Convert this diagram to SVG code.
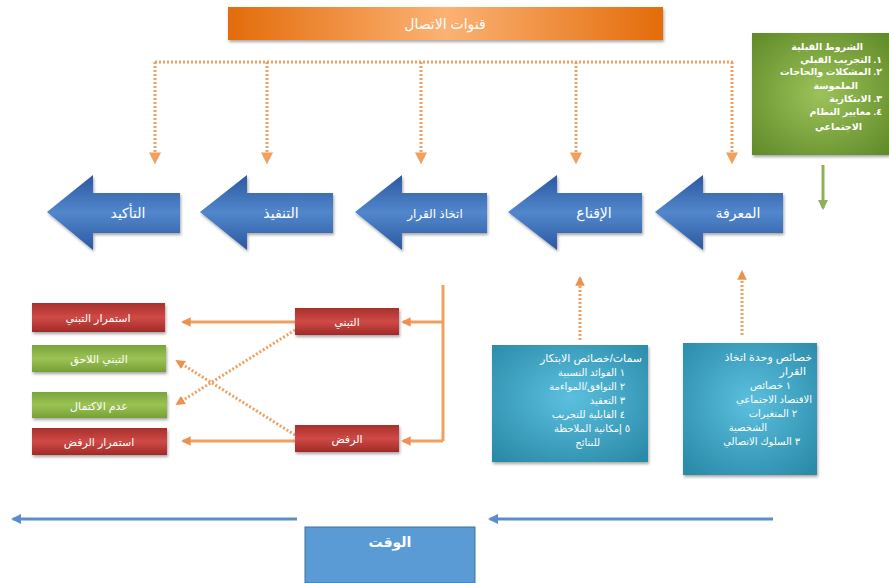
<svg xmlns="http://www.w3.org/2000/svg" width="889" height="583" viewBox="0 0 889 583">
<defs>
<linearGradient id="gOr" x1="0" y1="0" x2="1" y2="0">
<stop offset="0" stop-color="#e36c0a"/><stop offset="0.5" stop-color="#fbb274"/><stop offset="1" stop-color="#e36c0a"/>
</linearGradient>
<linearGradient id="gBl" x1="0" y1="0" x2="0" y2="1">
<stop offset="0" stop-color="#2b58a0"/><stop offset="0.5" stop-color="#5287cc"/><stop offset="1" stop-color="#2b58a0"/>
</linearGradient>
<linearGradient id="gRed" x1="0" y1="0" x2="0" y2="1">
<stop offset="0" stop-color="#a8302c"/><stop offset="0.5" stop-color="#cf4a46"/><stop offset="1" stop-color="#a02a27"/>
</linearGradient>
<linearGradient id="gGr" x1="0" y1="0" x2="0" y2="1">
<stop offset="0" stop-color="#7aa43a"/><stop offset="0.5" stop-color="#9bc254"/><stop offset="1" stop-color="#76a036"/>
</linearGradient>
<radialGradient id="gGrBox" cx="0.5" cy="0.5" r="0.7">
<stop offset="0" stop-color="#9cc25a"/><stop offset="1" stop-color="#5f8a28"/>
</radialGradient>
<radialGradient id="gTeal" cx="0.5" cy="0.45" r="0.7">
<stop offset="0" stop-color="#5bc0de"/><stop offset="1" stop-color="#2a8aa8"/>
</radialGradient>
<marker id="mOr" viewBox="0 0 10 10" refX="8" refY="5" markerWidth="4" markerHeight="4" orient="auto">
<path d="M0,0 L10,5 L0,10 z" fill="#f0a060"/>
</marker>
<marker id="mOr2" viewBox="0 0 10 10" refX="8" refY="5" markerWidth="3.2" markerHeight="3.2" orient="auto">
<path d="M0,0 L10,5 L0,10 z" fill="#f09050"/>
</marker>
<marker id="mBl" viewBox="0 0 10 10" refX="8" refY="5" markerWidth="3.5" markerHeight="3.5" orient="auto">
<path d="M0,0 L10,5 L0,10 z" fill="#5b8ec9"/>
</marker>
<marker id="mGr" viewBox="0 0 10 10" refX="8" refY="5" markerWidth="3.5" markerHeight="3.5" orient="auto">
<path d="M0,0 L10,5 L0,10 z" fill="#8fb05a"/>
</marker>
<filter id="sh" x="-10%" y="-10%" width="130%" height="140%">
<feDropShadow dx="1" dy="2" stdDeviation="1.5" flood-color="#000" flood-opacity="0.35"/>
</filter>
</defs>
<style>
text{font-family:"Liberation Sans","DejaVu Sans",sans-serif;fill:#fff;text-anchor:middle}
.ar{font-size:14px}
.sm{font-size:11px}
.gb{font-size:9.5px;font-weight:bold;text-anchor:end}
.bx{font-size:10px;text-anchor:end}
.dot{stroke:#f0a060;stroke-width:3;stroke-dasharray:2 2;fill:none}
.sol{stroke:#f0a060;stroke-width:3;fill:none}
.blu{stroke:#5b8ec9;stroke-width:3;fill:none}
</style>
<rect width="889" height="583" fill="#fff"/>

<g id="channels">
<rect x="228" y="7" width="435" height="33" fill="url(#gOr)" filter="url(#sh)"/>
<text x="445" y="29" class="ar">قنوات الاتصال</text>
</g>

<g id="connectors">
<path class="dot" d="M155,62 H733"/>
<path class="dot" d="M155,62 V162" marker-end="url(#mOr)"/>
<path class="dot" d="M267,62 V162" marker-end="url(#mOr)"/>
<path class="dot" d="M421,62 V162" marker-end="url(#mOr)"/>
<path class="dot" d="M576,62 V162" marker-end="url(#mOr)"/>
<path class="dot" d="M732,62 V162" marker-end="url(#mOr)"/>
<path d="M823,165 V208" stroke="#8fb05a" stroke-width="3" fill="none" marker-end="url(#mGr)"/>
<path class="sol" d="M443,285 V441"/>
<path class="sol" d="M443,322 H403" marker-end="url(#mOr2)"/>
<path class="sol" d="M443,441 H403" marker-end="url(#mOr2)"/>
<path class="sol" d="M295,322 H183" marker-end="url(#mOr2)"/>
<path class="sol" d="M295,441 H183" marker-end="url(#mOr2)"/>
<path class="dot" d="M295,330 L177,404" marker-end="url(#mOr2)"/>
<path class="dot" d="M295,435 L177,361" marker-end="url(#mOr2)"/>
<path class="dot" d="M580,340 V278" marker-end="url(#mOr2)"/>
<path class="dot" d="M742,335 V272" marker-end="url(#mOr2)"/>
<path class="blu" d="M297,519 H13" marker-end="url(#mBl)"/>
<path class="blu" d="M773,519 H490" marker-end="url(#mBl)"/>
</g>

<g id="prior">
<rect x="752" y="33" width="137" height="122" fill="url(#gGrBox)" filter="url(#sh)"/>
<text x="863" y="50" class="gb">الشروط القبلية</text>
<text x="882" y="63" class="gb">١. التجريب القبلي</text>
<text x="882" y="75" class="gb">٢. المشكلات والحاجات</text>
<text x="858" y="89" class="gb">الملموسة</text>
<text x="882" y="102" class="gb">٣. الابتكارية</text>
<text x="882" y="115" class="gb">٤. معايير النظام</text>
<text x="862" y="130" class="gb">الاجتماعي</text>
</g>

<g id="confirm">
<path d="M47,212 L93,175 V193 H180 V233 H93 V250 Z" fill="url(#gBl)" filter="url(#sh)"/>
<text x="128" y="218" class="ar">التأكيد</text>
</g>
<g id="implement">
<path d="M200,212 L247,175 V193 H333 V233 H247 V250 Z" fill="url(#gBl)" filter="url(#sh)"/>
<text x="281" y="218" class="ar">التنفيذ</text>
</g>
<g id="decision">
<path d="M355,212 L402,175 V193 H487 V233 H402 V250 Z" fill="url(#gBl)" filter="url(#sh)"/>
<text x="435" y="218" class="sm" style="font-size:12px">اتخاذ القرار</text>
</g>
<g id="persuasion">
<path d="M508,212 L557,175 V193 H642 V233 H557 V250 Z" fill="url(#gBl)" filter="url(#sh)"/>
<text x="594" y="218" class="ar">الإقناع</text>
</g>
<g id="knowledge">
<path d="M655,212 L703,175 V193 H783 V233 H703 V250 Z" fill="url(#gBl)" filter="url(#sh)"/>
<text x="738" y="218" class="ar">المعرفة</text>
</g>

<g id="cont-adopt">
<rect x="32" y="303" width="133" height="29" fill="url(#gRed)" filter="url(#sh)"/>
<text x="98" y="322" class="sm">استمرار التبني</text>
</g>
<g id="later-adopt">
<rect x="32" y="345" width="134" height="27" fill="url(#gGr)" filter="url(#sh)"/>
<text x="99" y="363" class="sm">التبني اللاحق</text>
</g>
<g id="discontinue">
<rect x="32" y="392" width="135" height="26" fill="url(#gGr)" filter="url(#sh)"/>
<text x="99" y="410" class="sm">عدم الاكتمال</text>
</g>
<g id="cont-reject">
<rect x="32" y="428" width="135" height="27" fill="url(#gRed)" filter="url(#sh)"/>
<text x="99" y="446" class="sm">استمرار الرفض</text>
</g>
<g id="adopt">
<rect x="295" y="308" width="104" height="27" fill="url(#gRed)" filter="url(#sh)"/>
<text x="347" y="326" class="sm">التبني</text>
</g>
<g id="reject">
<rect x="295" y="425" width="104" height="27" fill="url(#gRed)" filter="url(#sh)"/>
<text x="347" y="443" class="sm">الرفض</text>
</g>

<g id="innovation-traits">
<rect x="492" y="345" width="156" height="117" fill="url(#gTeal)" filter="url(#sh)"/>
<text x="642" y="362" class="bx" style="font-size:11px">سمات/خصائص الابتكار</text>
<text x="625" y="376" class="bx">١  الفوائد النسبية</text>
<text x="625" y="390" class="bx">٢  التوافق/المواءمة</text>
<text x="625" y="404" class="bx">٣  التعقيد</text>
<text x="625" y="418" class="bx">٤  القابلية للتجريب</text>
<text x="630" y="432" class="bx">٥  إمكانية الملاحظة</text>
<text x="600" y="446" class="bx">للنتائج</text>
</g>

<g id="unit-traits">
<rect x="683" y="343" width="134" height="132" fill="url(#gTeal)" filter="url(#sh)"/>
<text x="812" y="361" class="bx" style="font-size:11px">خصائص وحدة اتخاذ</text>
<text x="806" y="375" class="bx" style="font-size:11px">القرار</text>
<text x="791" y="389" class="bx">١  خصائص</text>
<text x="812" y="403" class="bx">الاقتصاد الاجتماعي</text>
<text x="797" y="417" class="bx">٢  المتغيرات</text>
<text x="767" y="431" class="bx">الشخصية</text>
<text x="800" y="445" class="bx">٣  السلوك الاتصالي</text>
</g>

<g id="time">
<rect x="305" y="527" width="170" height="56" fill="#5b9bd5" stroke="#41719c" stroke-width="1"/>
<text x="390" y="547" class="ar" style="font-weight:bold">الوقت</text>
</g>
</svg>
